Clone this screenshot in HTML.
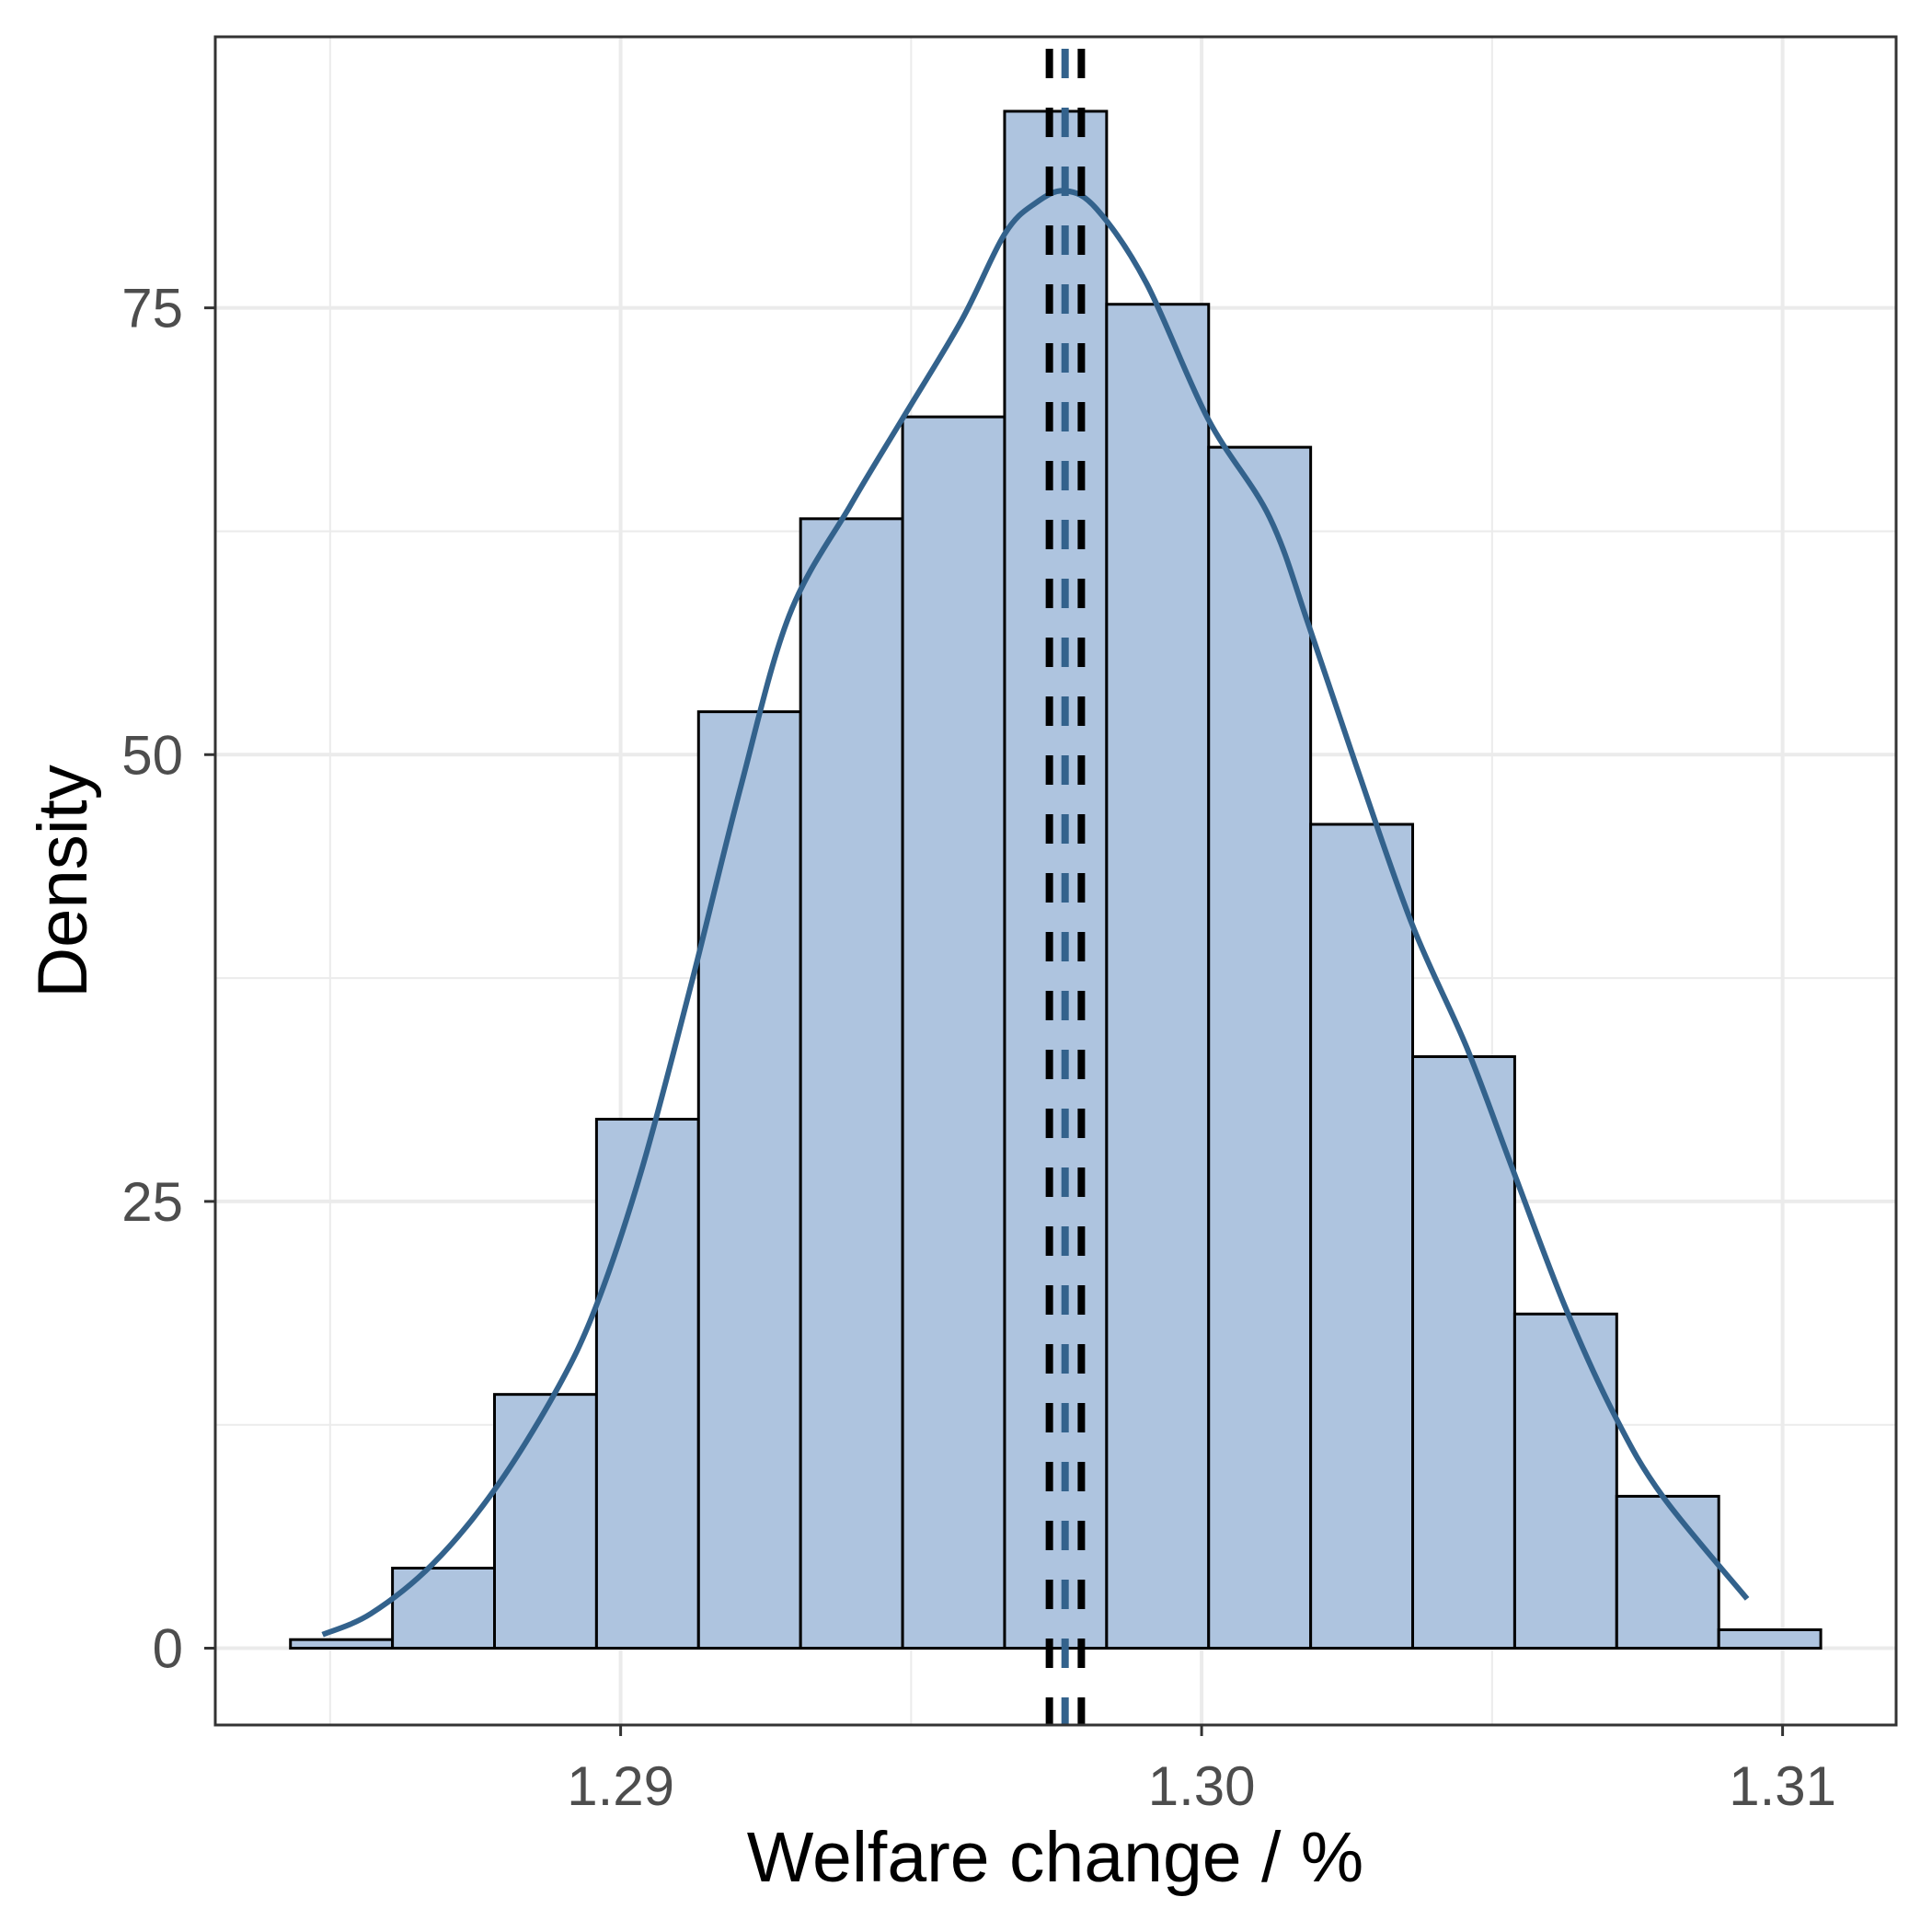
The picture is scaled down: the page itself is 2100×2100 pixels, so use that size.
<!DOCTYPE html>
<html><head><meta charset="utf-8"><style>
html,body{margin:0;padding:0;background:#fff}
svg{display:block;font-family:"Liberation Sans",sans-serif}
</style></head><body>
<svg id="chart" width="2100" height="2100" viewBox="0 0 2100 2100">
<rect width="2100" height="2100" fill="#fff"/>
<g id="grid"></g><g id="bars"></g><g id="curve"></g><g id="vlines"></g><g id="axes"></g>
</svg>
<script>
const binStart = 1.284317;
const binWidth = 0.001756;
const binDensities = [0.48, 4.48, 14.2, 29.6, 52.4, 63.2, 68.9, 86.0, 75.2, 67.2, 46.1, 33.1, 18.7, 8.5, 1.03];
const curveX = [1.28487,1.2857,1.28676,1.28782,1.28888,1.28958,1.29036,1.29121,1.29206,1.2929,1.29396,1.29485,1.29587,1.29661,1.29714,1.29765,1.2982,1.29905,1.30011,1.30117,1.30186,1.30265,1.30362,1.30456,1.30536,1.30625,1.30712,1.30794,1.30939];
const curveY = [0.76,1.93,4.69,8.82,14.34,19.16,26.75,37.09,48.11,57.77,63.97,68.79,74.31,79.13,80.86,81.55,80.51,76.38,68.79,63.28,57.08,49.49,40.53,33.64,26.75,19.16,12.96,8.48,2.76];
const blackLines = [1.29738, 1.29793];
const blueLines = [1.29765];
const xTicks = [1.29, 1.30, 1.31];
const xTickLabels = ["1.29", "1.30", "1.31"];
const xMinor = [1.285, 1.295, 1.305];
const yTicks = [0, 25, 50, 75];
const yTickLabels = ["0", "25", "50", "75"];
const yMinor = [12.5, 37.5, 62.5];

const L=234,R=2061,T=40,B=1875;
const xs = v => 674.6 + (v-1.29)*63150;
const ys = v => 1791.5 - v*19.425;
const NS="http://www.w3.org/2000/svg";
function mk(tag, parent, attrs){const e=document.createElementNS(NS,tag);for(const k in attrs)e.setAttribute(k,attrs[k]);document.getElementById(parent).appendChild(e);return e;}

xMinor.forEach(v=>{const e=mk('line','grid',{x1:xs(v),x2:xs(v),y1:T,y2:B,stroke:'#ebebeb','stroke-width':2});

});
yMinor.forEach(v=>{const e=mk('line','grid',{x1:L,x2:R,y1:ys(v),y2:ys(v),stroke:'#ebebeb','stroke-width':2});

});
xTicks.forEach(v=>{const e=mk('line','grid',{x1:xs(v),x2:xs(v),y1:T,y2:B,stroke:'#ebebeb','stroke-width':4});

});
yTicks.forEach(v=>{const e=mk('line','grid',{x1:L,x2:R,y1:ys(v),y2:ys(v),stroke:'#ebebeb','stroke-width':4});

});

binDensities.forEach((d,i)=>{const x0=xs(binStart+i*binWidth),x1=xs(binStart+(i+1)*binWidth);
const e=mk('rect','bars',{x:x0,y:ys(d),width:x1-x0,height:ys(0)-ys(d),fill:'#aec4df',stroke:'#000','stroke-width':3});

});

const pts=curveX.map((v,i)=>[xs(v),ys(curveY[i])]);
let dstr='M'+pts[0][0]+','+pts[0][1];
for(let i=0;i<pts.length-1;i++){const p0=pts[Math.max(0,i-1)],p1=pts[i],p2=pts[i+1],p3=pts[Math.min(pts.length-1,i+2)];
dstr+=' C'+(p1[0]+(p2[0]-p0[0])/6)+','+(p1[1]+(p2[1]-p0[1])/6)+' '+(p2[0]-(p3[0]-p1[0])/6)+','+(p2[1]-(p3[1]-p1[1])/6)+' '+p2[0]+','+p2[1];}
const c=mk('path','curve',{d:dstr,fill:'none',stroke:'#33628c','stroke-width':6});



blackLines.forEach(v=>{const e=mk('line','vlines',{x1:xs(v),x2:xs(v),y1:T+13,y2:B,stroke:'#000','stroke-width':8,'stroke-dasharray':'32,32'});

});
blueLines.forEach(v=>{const e=mk('line','vlines',{x1:xs(v),x2:xs(v),y1:T+13,y2:B,stroke:'#33628c','stroke-width':8,'stroke-dasharray':'32,32'});

});

const fr=mk('rect','axes',{x:L,y:T,width:R-L,height:B-T,fill:'none',stroke:'#333','stroke-width':3});


xTicks.forEach((v,i)=>{const t=mk('line','axes',{x1:xs(v),x2:xs(v),y1:B,y2:B+12,stroke:'#333','stroke-width':3});


const l=mk('text','axes',{x:xs(v),y:1962,'text-anchor':'middle','font-size':60,fill:'#4d4d4d'});l.textContent=xTickLabels[i];

});
yTicks.forEach((v,i)=>{const t=mk('line','axes',{x1:L-12,x2:L,y1:ys(v),y2:ys(v),stroke:'#333','stroke-width':3});


const l=mk('text','axes',{x:199,y:ys(v)+21,'text-anchor':'end','font-size':60,fill:'#4d4d4d'});l.textContent=yTickLabels[i];

});
const xt=mk('text','axes',{x:1147,y:2045,'text-anchor':'middle','font-size':77,fill:'#000'});xt.textContent='Welfare change / %';


const yt=mk('text','axes',{x:0,y:0,'text-anchor':'middle','font-size':76,fill:'#000',transform:'translate(94,958) rotate(-90)'});yt.textContent='Density';


</script>
</body></html>
